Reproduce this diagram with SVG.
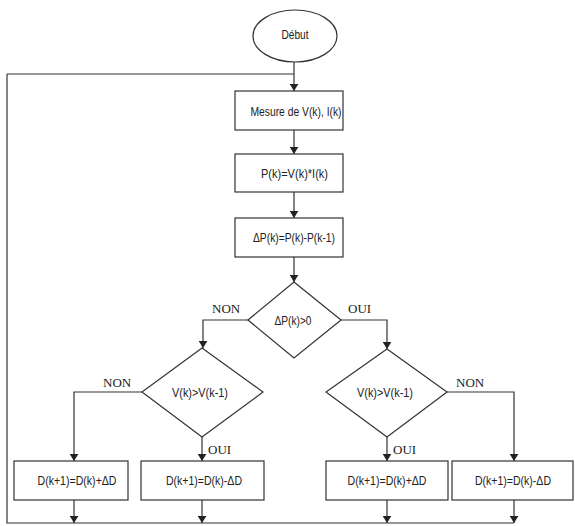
<svg xmlns="http://www.w3.org/2000/svg" width="575" height="526" viewBox="0 0 575 526">
<style>
.s{fill:#fff;stroke:#333;stroke-width:1.2}
.l{fill:none;stroke:#333;stroke-width:1.2}
.t{font-family:"Liberation Sans",Arial,sans-serif;font-size:13px;fill:#222;text-anchor:middle;dominant-baseline:central}
.y{font-family:"Liberation Serif","Times New Roman",serif;font-size:13px;fill:#222}
</style>
<defs>
<marker id="a" viewBox="0 0 8 10" refX="8" refY="5" markerWidth="7" markerHeight="9" markerUnits="userSpaceOnUse" orient="auto">
<path d="M0,0 L8,5 L0,10 z" fill="#222"/>
</marker>
</defs>
<rect width="575" height="526" fill="#fff"/>
<g id="connectors">
<path class="l" d="M294,62 V91" marker-end="url(#a)"/>
<path class="l" d="M7,74 H294"/>
<path class="l" d="M294,130 V154" marker-end="url(#a)"/>
<path class="l" d="M294,192 V218" marker-end="url(#a)"/>
<path class="l" d="M294,257 V282" marker-end="url(#a)"/>
<path class="l" d="M248,320 H203 V348" marker-end="url(#a)"/>
<path class="l" d="M341,320 H387 V349" marker-end="url(#a)"/>
<path class="l" d="M142,392 H74 V461" marker-end="url(#a)"/>
<path class="l" d="M202,437 V461" marker-end="url(#a)"/>
<path class="l" d="M387,437 V461" marker-end="url(#a)"/>
<path class="l" d="M447,392 H514 V461" marker-end="url(#a)"/>
<path class="l" d="M74,500 V523" marker-end="url(#a)"/>
<path class="l" d="M202,500 V523" marker-end="url(#a)"/>
<path class="l" d="M387,500 V523" marker-end="url(#a)"/>
<path class="l" d="M514,500 V523" marker-end="url(#a)"/>
<path class="l" d="M514,523 H7 V74"/>
<text class="y" x="212" y="313">NON</text>
<text class="y" x="348" y="313">OUI</text>
<text class="y" x="103" y="387">NON</text>
<text class="y" x="456" y="387">NON</text>
<text class="y" x="208" y="454">OUI</text>
<text class="y" x="393" y="454">OUI</text>
</g>
<g id="debut">
<ellipse class="s" cx="295" cy="36" rx="42" ry="26"/>
<text class="t" x="295" y="34" textLength="27" lengthAdjust="spacingAndGlyphs">Début</text>
</g>
<g id="mesure">
<rect class="s" x="235" y="91" width="108" height="39"/>
<text class="t" x="296" y="111" textLength="91" lengthAdjust="spacingAndGlyphs">Mesure de V(k), I(k)</text>
</g>
<g id="puissance">
<rect class="s" x="235" y="154" width="108" height="38"/>
<text class="t" x="294.5" y="173" textLength="67" lengthAdjust="spacingAndGlyphs">P(k)=V(k)*I(k)</text>
</g>
<g id="deltap">
<rect class="s" x="235" y="218" width="108" height="39"/>
<text class="t" x="294" y="237.5" textLength="82" lengthAdjust="spacingAndGlyphs">ΔP(k)=P(k)-P(k-1)</text>
</g>
<g id="test1">
<path class="s" d="M294,282 L341,320 L294,358 L248,320 z"/>
<text class="t" x="293" y="320" textLength="37" lengthAdjust="spacingAndGlyphs">ΔP(k)&gt;0</text>
</g>
<g id="test2">
<path class="s" d="M202,348 L263,392 L202,437 L142,392 z"/>
<text class="t" x="200" y="392" textLength="56" lengthAdjust="spacingAndGlyphs">V(k)&gt;V(k-1)</text>
</g>
<g id="test3">
<path class="s" d="M387,349 L447,392 L387,437 L326,392 z"/>
<text class="t" x="385" y="392" textLength="56" lengthAdjust="spacingAndGlyphs">V(k)&gt;V(k-1)</text>
</g>
<g id="d1">
<rect class="s" x="14" y="461" width="114" height="39"/>
<text class="t" x="77" y="480.5" textLength="79" lengthAdjust="spacingAndGlyphs">D(k+1)=D(k)+ΔD</text>
</g>
<g id="d2">
<rect class="s" x="141" y="461" width="123" height="39"/>
<text class="t" x="204" y="480.5" textLength="76" lengthAdjust="spacingAndGlyphs">D(k+1)=D(k)-ΔD</text>
</g>
<g id="d3">
<rect class="s" x="326" y="461" width="122" height="39"/>
<text class="t" x="387" y="480.5" textLength="79" lengthAdjust="spacingAndGlyphs">D(k+1)=D(k)+ΔD</text>
</g>
<g id="d4">
<rect class="s" x="452" y="461" width="121" height="39"/>
<text class="t" x="513" y="480.5" textLength="76" lengthAdjust="spacingAndGlyphs">D(k+1)=D(k)-ΔD</text>
</g>
</svg>
